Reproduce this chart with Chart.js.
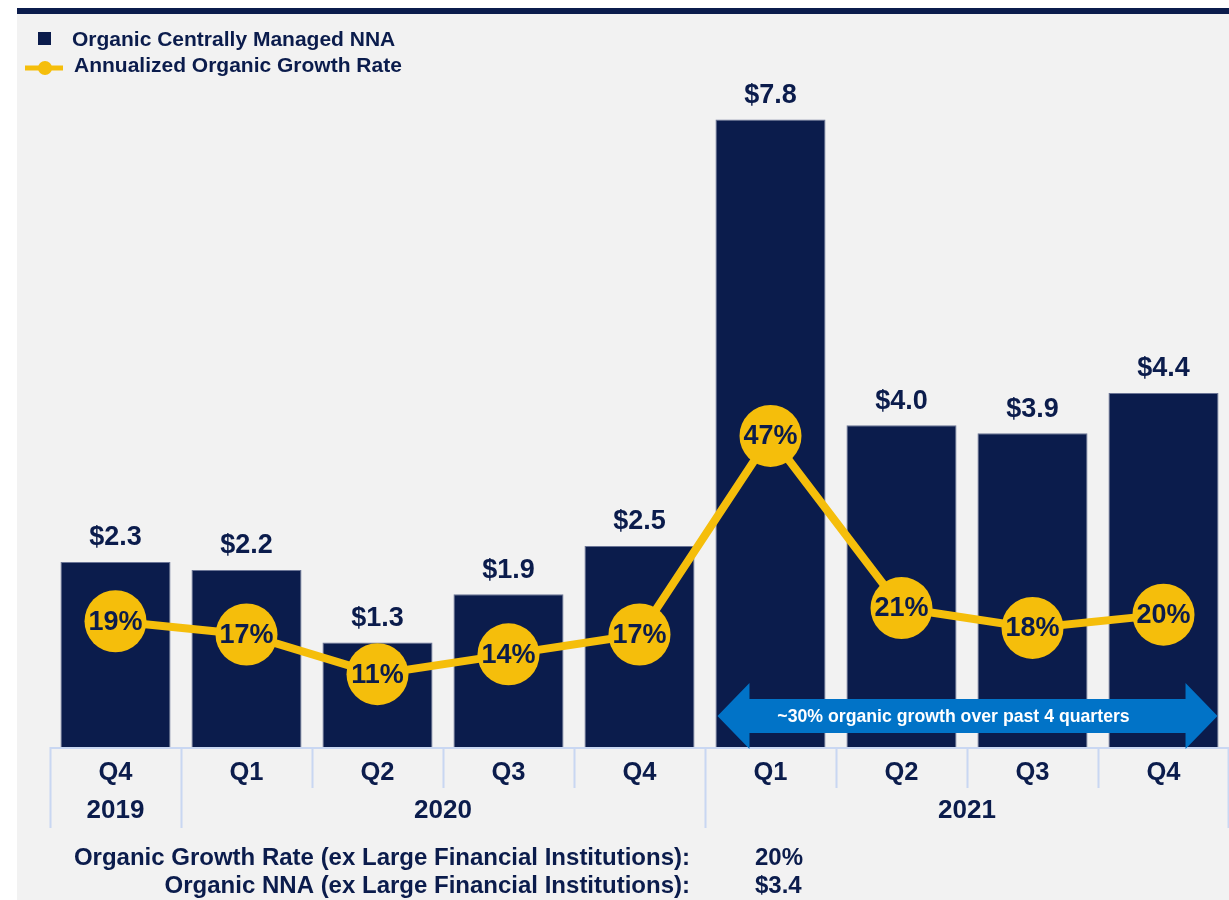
<!DOCTYPE html>
<html>
<head>
<meta charset="utf-8">
<script src="https://cdn.jsdelivr.net/npm/chart.js@4.4.0/dist/chart.umd.min.js"></script>
<style>
  html, body { margin: 0; padding: 0; background: #fff; }
  canvas { display: block; }
</style>
</head>
<body>
<canvas id="nnaChart" width="1229" height="900"></canvas>
<script>
// data
const quarters = ['Q4', 'Q1', 'Q2', 'Q3', 'Q4', 'Q1', 'Q2', 'Q3', 'Q4'];
const years = ['2019', '2020', '2021'];
const yearFirstQuarter = [0, 1, 5];
const nnaValues = [2.3, 2.2, 1.3, 1.9, 2.5, 7.8, 4.0, 3.9, 4.4];
const growthRates = [19, 17, 11, 14, 17, 47, 21, 18, 20];
const arrowText = '~30% organic growth over past 4 quarters';
const arrowFrom = 5;
const arrowTo = 8;
const footLabels = ['Organic Growth Rate (ex Large Financial Institutions):', 'Organic NNA (ex Large Financial Institutions):'];
const footValues = ['20%', '$3.4'];

const NAVY = '#0B1C4C';
const GOLD = '#F5BE0B';
const AXIS = '#C9D7F2';
const ARROW = '#0173C7';
const FONT = '"Liberation Sans", Arial, sans-serif';

function bold(size) {
    return 'bold ' + size + 'px ' + FONT;
}

const decorations = {
    id: 'decorations',
    beforeDraw(chart) {
        const ctx = chart.ctx;
        ctx.save();
        ctx.fillStyle = '#ffffff';
        ctx.fillRect(0, 0, chart.width, chart.height);
        ctx.fillStyle = '#F2F2F2';
        ctx.fillRect(17, 10, chart.width - 17, chart.height - 10);
        ctx.fillStyle = NAVY;
        ctx.fillRect(17, 8, chart.width - 17, 6);
        ctx.restore();
    },
    afterDatasetsDraw(chart) {
        const ctx = chart.ctx;
        const area = chart.chartArea;
        const x = chart.scales.x;
        const lineMeta = chart.getDatasetMeta(0);
        const barMeta = chart.getDatasetMeta(1);
        ctx.save();

        // x axis: baseline, separators, quarter and year labels
        ctx.strokeStyle = AXIS;
        ctx.lineWidth = 2;
        ctx.beginPath();
        ctx.moveTo(area.left, area.bottom + 1);
        ctx.lineTo(area.right, area.bottom + 1);
        ctx.stroke();
        for (let i = 0; i <= quarters.length; i++) {
            const px = Math.min(Math.round(x.getPixelForValue(i - 0.5)), area.right - 1) + 0.5;
            const isYear = yearFirstQuarter.includes(i) || i === quarters.length;
            ctx.beginPath();
            ctx.moveTo(px, area.bottom);
            ctx.lineTo(px, area.bottom + (isYear ? 81 : 41));
            ctx.stroke();
        }
        ctx.fillStyle = NAVY;
        ctx.font = bold(25.5);
        ctx.textAlign = 'center';
        ctx.textBaseline = 'middle';
        quarters.forEach((q, i) => {
            ctx.fillText(q, x.getPixelForValue(i), area.bottom + 26);
        });
        ctx.font = bold(26);
        years.forEach((yr, k) => {
            const first = yearFirstQuarter[k];
            const last = k + 1 < years.length ? yearFirstQuarter[k + 1] - 1 : quarters.length - 1;
            const cx = (x.getPixelForValue(first - 0.5) + x.getPixelForValue(last + 0.5)) / 2;
            ctx.fillText(yr, cx, area.bottom + 64);
        });

        // bar value labels
        ctx.font = bold(27);
        barMeta.data.forEach((bar, i) => {
            ctx.fillText('$' + nnaValues[i].toFixed(1), bar.x, bar.y - 24);
        });

        // growth rate labels inside markers
        ctx.font = bold(27);
        lineMeta.data.forEach((pt, i) => {
            ctx.fillText(growthRates[i] + '%', pt.x, pt.y + 1);
        });

        // double arrow
        const b0 = barMeta.data[arrowFrom];
        const b1 = barMeta.data[arrowTo];
        const left = b0.x - b0.width / 2 + 2;
        const right = b1.x + b1.width / 2 - 1;
        const cy = area.bottom - 31;
        const shaft = 17, head = 33, headLen = 32;
        ctx.fillStyle = ARROW;
        ctx.beginPath();
        ctx.moveTo(left, cy);
        ctx.lineTo(left + headLen, cy - head);
        ctx.lineTo(left + headLen, cy - shaft);
        ctx.lineTo(right - headLen, cy - shaft);
        ctx.lineTo(right - headLen, cy - head);
        ctx.lineTo(right, cy);
        ctx.lineTo(right - headLen, cy + head);
        ctx.lineTo(right - headLen, cy + shaft);
        ctx.lineTo(left + headLen, cy + shaft);
        ctx.lineTo(left + headLen, cy + head);
        ctx.closePath();
        ctx.fill();
        ctx.fillStyle = '#ffffff';
        ctx.font = bold(17.7);
        ctx.fillText(arrowText, (left + right) / 2 - 14, cy + 1);

        // legend
        ctx.fillStyle = NAVY;
        ctx.fillRect(38, 32, 13, 13);
        ctx.strokeStyle = GOLD;
        ctx.lineWidth = 5;
        ctx.beginPath();
        ctx.moveTo(25, 68);
        ctx.lineTo(63, 68);
        ctx.stroke();
        ctx.fillStyle = GOLD;
        ctx.beginPath();
        ctx.arc(45, 68, 7, 0, Math.PI * 2);
        ctx.fill();
        ctx.fillStyle = NAVY;
        ctx.font = bold(21);
        ctx.textAlign = 'left';
        ctx.fillText(chart.data.datasets[1].label, 72, 40);
        ctx.fillText(chart.data.datasets[0].label, 74, 66);

        // footnotes
        ctx.font = bold(24);
        footLabels.forEach((t, i) => {
            ctx.textAlign = 'right';
            ctx.fillText(t, 690, 858 + i * 28);
            ctx.textAlign = 'left';
            ctx.fillText(footValues[i], 755, 858 + i * 28);
        });
        ctx.restore();
    }
};

function drawNnaChart() {
    const ctx = document.getElementById('nnaChart').getContext('2d');
    new Chart(ctx, {
        type: 'bar',
        data: {
            labels: quarters,
            datasets: [{
                type: 'line',
                label: 'Annualized Organic Growth Rate',
                data: growthRates,
                yAxisID: 'y2',
                order: 0,
                borderColor: GOLD,
                borderWidth: 8,
                backgroundColor: GOLD,
                pointRadius: 31,
                pointHoverRadius: 31,
                pointBackgroundColor: GOLD,
                pointBorderWidth: 0,
                tension: 0
            },
            {
                type: 'bar',
                label: 'Organic Centrally Managed NNA',
                data: nnaValues,
                yAxisID: 'y',
                order: 1,
                backgroundColor: NAVY,
                borderColor: '#6B7596',
                borderWidth: 1,
                categoryPercentage: 1,
                barPercentage: 0.84
            }]
        },
        options: {
            responsive: false,
            animation: false,
            layout: {
                autoPadding: false,
                padding: { left: 50, right: 0, top: 23, bottom: 153 }
            },
            plugins: {
                legend: { display: false },
                tooltip: { enabled: false }
            },
            scales: {
                x: { display: false },
                y: { display: false, min: 0, max: 9 },
                y2: { display: false, position: 'right', min: 0, max: 109.4 }
            }
        },
        plugins: [decorations]
    });
}

drawNnaChart();
</script>
</body>
</html>
